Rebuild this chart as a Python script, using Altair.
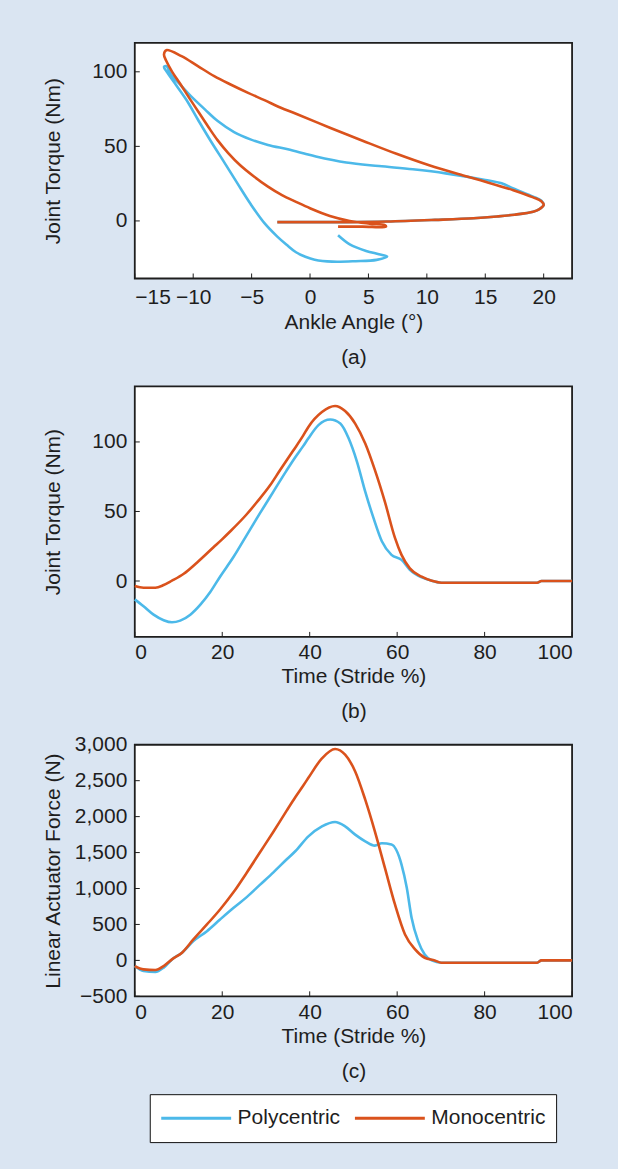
import altair as alt
import pandas as pd

SERIES = ["Polycentric", "Monocentric"]
BLUE = "#4cb9e9"
RED = "#da521c"
BG = "#dae5f2"
INK = "#1e1e1e"
FONT = "Liberation Sans"
FS = 21
LW = 2.6
W = 438

# ---------- (a) torque vs ankle angle (time-ordered paths) ----------
poly_angle = [2.4, 3.4, 4.8, 5.9, 6.6, 5.7, 3.9, 1.9, 0.4, -0.4, -1.2, -2.0, -2.8, -3.9, -5.1, -6.2,
              -7.3, -8.5, -9.6, -10.6, -11.6, -12.2, -12.5, -12.3, -11.9, -11.0, -10.2, -9.0, -7.9,
              -6.5, -5.1, -3.6, -1.9, -0.5, 0.5, 3.1, 5.9, 8.8, 11.6, 15.0, 16.4, 17.4, 19.1, 19.8,
              20.0, 19.6, 19.1, 17.5, 16.0, 14.0, 10.7, 6.6, 3.0, 0.0, -2.8]
poly_angle_torque = [-9.6, -15.7, -20.1, -22.3, -23.9, -26.1, -27.0, -27.3, -26.0, -24.0, -21.0, -16.0,
                     -10.5, -1.5, 11.5, 25.0, 38.8, 53.6, 68.0, 81.4, 92.6, 99.3, 103.3, 103.8, 98.2,
                     90.4, 83.7, 74.8, 67.0, 59.6, 54.7, 51.0, 48.0, 45.2, 43.2, 39.2, 36.8, 34.6,
                     31.9, 27.5, 25.2, 21.8, 16.3, 13.5, 10.7, 7.8, 6.2, 4.2, 3.0, 1.8, 0.7, -0.4,
                     -0.8, -0.8, -0.8]
mono_angle = [2.4, 4.5, 6.5, 6.4, 5.1, 3.4, 1.7, 0.0, -1.2, -2.4, -3.6, -4.8, -6.0, -7.0, -7.9, -8.7,
              -9.5, -10.3, -11.1, -11.8, -12.3, -12.5, -12.3, -11.0, -9.6, -8.2, -6.8, -5.3, -3.9,
              -2.5, -1.2, 1.7, 4.5, 7.4, 10.2, 13.1, 15.0, 17.4, 19.1, 19.8, 20.0, 19.6, 19.1, 17.5,
              16.0, 14.0, 10.7, 6.6, 3.0, 0.0, -2.8]
mono_angle_torque = [-3.8, -3.8, -3.8, -2.8, -1.8, 0.0, 3.3, 8.5, 12.8, 17.3, 23.0, 29.8, 37.5, 45.5,
                     54.0, 63.0, 72.5, 82.0, 91.8, 100.0, 107.2, 111.6, 114.5, 110.5, 103.8, 97.1,
                     91.5, 85.9, 81.0, 75.9, 71.9, 62.5, 53.8, 45.0, 37.3, 30.5, 26.3, 20.6, 15.8,
                     13.2, 10.7, 7.8, 6.2, 4.2, 3.0, 1.8, 0.7, -0.4, -0.8, -0.8, -0.8]

# ---------- (b) joint torque vs stride ----------
poly_t_b = [0, 2, 4.3, 6.6, 8.5, 10.4, 12.7, 15, 17.3, 19.5, 22.6, 25.6, 28.6, 31.7, 34.7, 36.7, 38.5,
            39.7, 42, 44.7, 47, 48.9, 50.8, 52.7, 54.6, 56.5, 58.7, 61, 62.9, 65.6, 67.9, 70.1, 92, 93, 100]
poly_torque = [-13.2, -18.2, -24.2, -28.2, -29.7, -28.5, -24.2, -17, -7.7, 3.1, 17.4, 33, 48.6, 64.3,
               79.4, 89.0, 97, 102.6, 112.1, 116.1, 113.2, 102.6, 85.9, 64.3, 45.2, 28.6, 18.8, 15.2,
               8.1, 2.6, 0.2, -1.2, -1.2, 0, 0]
mono_t_b = [0, 2, 4.7, 6.6, 8.5, 11.2, 14.2, 18, 19.9, 21.8, 25.6, 27.9, 30.9, 33.2, 36.2, 38.5, 39.7,
            42.8, 45.8, 48.1, 50.4, 52.7, 54.9, 57.2, 59.5, 61, 62.9, 65.6, 67.9, 70.1, 92, 93, 100]
mono_torque = [-3.6, -4.8, -4.8, -2.9, 0.2, 5.2, 13.2, 24.3, 29.8, 35.6, 48.0, 56.6, 68.6, 79.6, 93.6,
               104.5, 110.8, 121.5, 125.9, 122.2, 113.2, 98.9, 79.9, 56.9, 31, 18.8, 9.1, 3.1, 0.2,
               -1.2, -1.2, 0, 0]

# ---------- (c) linear actuator force vs stride ----------
poly_t_c = [0, 2, 4.7, 6.6, 8.5, 10.8, 13.4, 16.5, 19.5, 22.6, 25.6, 28.6, 31.7, 34.7, 36.7, 39.7, 42.8,
            45.8, 48.1, 50.4, 52.7, 54.9, 56.5, 58.7, 61, 62.2, 63.3, 64.8, 66.3, 67.9, 70.1, 92, 93, 100]
poly_force = [-79, -148, -162, -101, 14, 107, 268, 407, 569, 732, 880, 1050, 1225, 1403, 1518, 1726,
              1865, 1926, 1865, 1750, 1657, 1597, 1629, 1611, 1333, 1010, 593, 268, 83, 0, -32, -32, 0, 0]
mono_t_c = [0, 2, 4.7, 6.6, 8.5, 10.8, 13.4, 16.5, 19.5, 22.6, 25.6, 28.6, 31.7, 34.7, 36.7, 38.5, 39.7,
            42.8, 45.8, 48.1, 50.4, 52.7, 54.9, 57.2, 59.5, 61.8, 64.1, 66.3, 68.6, 70.1, 92, 93, 100]
mono_force = [-79, -125, -134, -79, 14, 107, 292, 500, 708, 950, 1220, 1500, 1790, 2080, 2270, 2430,
              2540, 2810, 2940, 2861, 2629, 2236, 1796, 1287, 778, 361, 153, 37, 0, -32, -32, 0, 0]

angle_ticks = [-15, -10, -5, 0, 5, 10, 15, 20]
torque_ticks = [0, 50, 100]
stride_ticks = [0, 20, 40, 60, 80, 100]
force_ticks = [-500, 0, 500, 1000, 1500, 2000, 2500, 3000]


def tick_layers(xscale, yscale, xax, yax, xvals, yvals, h):
    xt = alt.Chart(pd.DataFrame({"v": xvals})).mark_rule(color=INK, strokeWidth=1).encode(
        x=alt.X("v:Q", scale=xscale, axis=xax), y=alt.value(h), y2=alt.value(h - 5))
    yt = alt.Chart(pd.DataFrame({"v": yvals})).mark_rule(color=INK, strokeWidth=1).encode(
        y=alt.Y("v:Q", scale=yscale, axis=yax), x=alt.value(0), x2=alt.value(5))
    return [xt, yt]


def y_axis(vals, title, **kw):
    return alt.Axis(values=vals, title=title, labelPadding=8, titleX=-71, **kw)


def x_axis(vals, lines, pad, ty):
    return alt.Axis(values=vals, title=lines, labelPadding=pad, titleY=ty,
                    titleLineHeight=35, titleBaseline="top")


# ---- panel (a)
sx_a = alt.Scale(domain=[-15, 22.43], nice=False, zero=False)
sy_a = alt.Scale(domain=[-38.6, 119.4], nice=False, zero=False)
xax_a = x_axis(angle_ticks, ["Ankle Angle (°)", "(a)"], 8, 33)
yax_a = y_axis(torque_ticks, "Joint Torque (Nm)")
df_a_poly = pd.DataFrame({"angle": poly_angle, "torque": poly_angle_torque,
                          "i": list(range(len(poly_angle)))})
df_a_mono = pd.DataFrame({"angle": mono_angle, "torque": mono_angle_torque,
                          "i": list(range(len(mono_angle)))})
a_poly = alt.Chart(df_a_poly).mark_line(color=BLUE, strokeWidth=LW, interpolate="catmull-rom").encode(
    x=alt.X("angle:Q", scale=sx_a, axis=xax_a),
    y=alt.Y("torque:Q", scale=sy_a, axis=yax_a),
    order="i:Q")
a_mono = alt.Chart(df_a_mono).mark_line(color=RED, strokeWidth=LW, interpolate="catmull-rom").encode(
    x=alt.X("angle:Q", scale=sx_a, axis=xax_a),
    y=alt.Y("torque:Q", scale=sy_a, axis=yax_a),
    order="i:Q")
pa = alt.layer(a_poly, a_mono,
               *tick_layers(sx_a, sy_a, xax_a, yax_a, angle_ticks, torque_ticks, 236)).properties(
    width=W, height=236)

# ---- panel (b)
sx_b = alt.Scale(domain=[0, 100], nice=False, zero=False)
sy_b = alt.Scale(domain=[-40.2, 140], nice=False, zero=False)
xax_b = x_axis(stride_ticks, ["Time (Stride %)", "(b)"], 5, 29)
yax_b = y_axis(torque_ticks, "Joint Torque (Nm)")
df_b_poly = pd.DataFrame({"t": poly_t_b, "torque": poly_torque})
df_b_mono = pd.DataFrame({"t": mono_t_b, "torque": mono_torque})
b_poly = alt.Chart(df_b_poly).mark_line(color=BLUE, strokeWidth=LW, interpolate="monotone").encode(
    x=alt.X("t:Q", scale=sx_b, axis=xax_b),
    y=alt.Y("torque:Q", scale=sy_b, axis=yax_b))
b_mono = alt.Chart(df_b_mono).mark_line(color=RED, strokeWidth=LW, interpolate="monotone").encode(
    x=alt.X("t:Q", scale=sx_b, axis=xax_b),
    y=alt.Y("torque:Q", scale=sy_b, axis=yax_b))
pb = alt.layer(b_poly, b_mono,
               *tick_layers(sx_b, sy_b, xax_b, yax_b, stride_ticks, torque_ticks, 251)).properties(
    width=W, height=251)

# ---- panel (c)
sx_c = alt.Scale(domain=[0, 100], nice=False, zero=False)
sy_c = alt.Scale(domain=[-500, 3000], nice=False, zero=False)
xax_c = x_axis(stride_ticks, ["Time (Stride %)", "(c)"], 5, 29)
yax_c = y_axis(force_ticks, "Linear Actuator Force (N)", format=",.0f")
df_c_poly = pd.DataFrame({"t": poly_t_c, "force": poly_force, "series": SERIES[0]})
df_c_mono = pd.DataFrame({"t": mono_t_c, "force": mono_force, "series": SERIES[1]})
legend = alt.Legend(orient="none", legendX=15, legendY=350, direction="horizontal", title=None,
                    symbolType="stroke", symbolSize=4900, symbolStrokeWidth=3,
                    labelFont=FONT, labelFontSize=FS, labelColor=INK, labelOffset=5,
                    columnPadding=13, padding=10, strokeColor="#111", fillColor="white",
                    clipHeight=28)
color_c = alt.Color("series:N", scale=alt.Scale(domain=SERIES, range=[BLUE, RED]), legend=legend)
c_poly = alt.Chart(df_c_poly).mark_line(strokeWidth=LW, interpolate="monotone").encode(
    x=alt.X("t:Q", scale=sx_c, axis=xax_c),
    y=alt.Y("force:Q", scale=sy_c, axis=yax_c),
    color=color_c)
c_mono = alt.Chart(df_c_mono).mark_line(strokeWidth=LW, interpolate="monotone").encode(
    x=alt.X("t:Q", scale=sx_c, axis=xax_c),
    y=alt.Y("force:Q", scale=sy_c, axis=yax_c),
    color=color_c)
pc = alt.layer(c_poly, c_mono,
               *tick_layers(sx_c, sy_c, xax_c, yax_c, stride_ticks, force_ticks, 252)).properties(
    width=W, height=252)

chart = (
    alt.vconcat(pa, pb, pc, spacing=108, bounds="flush")
    .resolve_scale(color="independent")
    .resolve_legend(color="independent")
    .properties(background=BG,
                padding={"left": 42, "top": 41, "right": 39, "bottom": 24})
    .configure_view(stroke=INK, strokeWidth=1.8, fill="white")
    .configure_axis(labelFont=FONT, labelFontSize=FS, labelColor=INK, titleFont=FONT,
                    titleFontSize=FS, titleFontWeight="normal", titleColor=INK,
                    ticks=False, tickSize=0, domain=False, grid=False)
)

chart.save("out.html", embed_options={"renderer": "svg", "actions": False})
